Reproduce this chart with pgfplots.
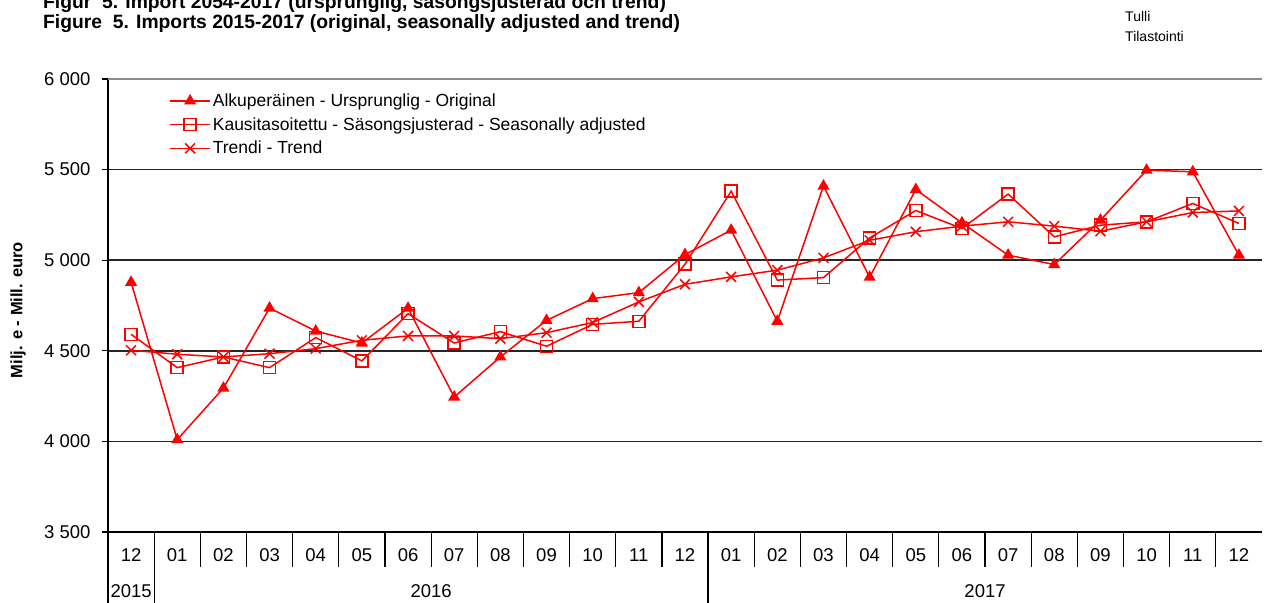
\documentclass[border=0pt]{standalone}
\usepackage{pgfplots}
\pgfplotsset{compat=1.18}
\usepackage{pgfplotstable}
\usepackage{fontspec}
\setmainfont{Liberation Sans}
\definecolor{ser}{RGB}{255,0,0}
\pgfplotstableread{
idx orig sa trend
0 4878 4591 4503
1 4010 4407 4481
2 4294 4466 4466
3 4736 4407 4484
4 4609 4573 4512
5 4543 4444 4558
6 4735 4705 4582
7 4245 4543 4582
8 4466 4606 4567
9 4668 4525 4600
10 4788 4646 4656
11 4821 4663 4770
12 5031 4978 4867
13 5166 5381 4908
14 4663 4890 4945
15 5409 4904 5013
16 4906 5123 5110
17 5390 5274 5157
18 5206 5175 5188
19 5028 5365 5212
20 4976 5129 5188
21 5221 5193 5160
22 5497 5212 5212
23 5488 5313 5263
24 5028 5203 5272
}\data
\begin{document}
\begin{tikzpicture}[x=1pt,y=1pt]
\path[use as bounding box] (0,0) rectangle (1265,602);
\node[anchor=base west, inner sep=0pt, font=\fontsize{19.3}{22}\selectfont\bfseries] at (43,593) {Figur\ \ 5. Import 2054-2017 (ursprunglig, säsongsjusterad och trend)};
\node[anchor=base west, inner sep=0pt, font=\fontsize{19.3}{22}\selectfont\bfseries] at (43,573) {Figure\ \ 5. Imports 2015-2017 (original, seasonally adjusted and trend)};
\node[anchor=base west, inner sep=0pt, font=\fontsize{14}{17}\selectfont] at (1125,580) {Tulli};
\node[anchor=base west, inner sep=0pt, font=\fontsize{14}{17}\selectfont] at (1125,560) {Tilastointi};
\begin{axis}[
  at={(108pt,70pt)}, anchor=south west, scale only axis,
  width=1154pt, height=453pt,
  xmin=-0.5, xmax=24.5, ymin=3500, ymax=6000,
  axis x line*=bottom, axis y line*=left,
  axis line style={black, line width=1.6pt},
  clip=false,
  ytick={3500,4000,...,5500},
  extra y ticks={6000},
  extra y tick style={grid=major, major grid style={black!45, line width=1.6pt}},
  ymajorgrids, grid style={black!85, line width=1.6pt},
  tick align=outside, major tick length=6pt,
  ytick style={black, line width=1.2pt},
  yticklabel style={xshift=-8pt},
  xtick={0,...,24},
  xtick style={draw=none},
  xticklabels={12,01,02,03,04,05,06,07,08,09,10,11,12,01,02,03,04,05,06,07,08,09,10,11,12},
  xticklabel style={anchor=center, yshift=-17pt},
  ticklabel style={font=\fontsize{18.5}{22}\selectfont},
  /pgf/number format/assume math mode=true,
  /pgf/number format/1000 sep={\ },
  ylabel={Milj. e - Mill. euro},
  ylabel style={at={(axis description cs:-0.078,0.49)}, anchor=center, font=\fontsize{16.5}{19}\selectfont\bfseries},
  legend style={draw=none, fill=none, at={(0.053,0.972)}, anchor=north west,
    font=\fontsize{17.5}{21}\selectfont, row sep=5.5pt, inner sep=0pt},
  legend cell align=left,
  legend image code/.code={\draw[mark repeat=2,mark phase=2] plot coordinates {(0pt,0pt) (20pt,0pt) (40pt,0pt)};},
]
\addplot[ser, line width=1.5pt, mark=triangle*, mark size=5.5pt, mark options={solid}] table[x=idx,y=orig] {\data};
\addlegendentry{Alkuperäinen - Ursprunglig - Original}
\addplot[ser, line width=1.5pt, mark=square, mark size=6pt, mark options={solid, fill=white}] table[x=idx,y=sa] {\data};
\addlegendentry{Kausitasoitettu - Säsongsjusterad - Seasonally adjusted}
\addplot[ser, line width=1.5pt, mark=x, mark size=7pt, mark options={solid}] table[x=idx,y=trend] {\data};
\addlegendentry{Trendi - Trend}
\pgfplotsinvokeforeach{1.5,2.5,...,11.5}{\draw[black, line width=1.2pt] (axis cs:#1,3500) -- (axis cs:#1,3307);}
\pgfplotsinvokeforeach{13.5,14.5,...,23.5}{\draw[black, line width=1.2pt] (axis cs:#1,3500) -- (axis cs:#1,3307);}
\draw[black, line width=1.2pt] (axis cs:-0.5,3500) -- (axis cs:-0.5,3110);
\draw[black, line width=1.2pt] (axis cs:0.5,3500) -- (axis cs:0.5,3110);
\draw[black, line width=1.2pt] (axis cs:12.5,3500) -- (axis cs:12.5,3110);
\node[font=\fontsize{18.5}{22}\selectfont] at (axis cs:0,3500) [yshift=-59pt] {2015};
\node[font=\fontsize{18.5}{22}\selectfont] at (axis cs:6.5,3500) [yshift=-59pt] {2016};
\node[font=\fontsize{18.5}{22}\selectfont] at (axis cs:18.5,3500) [yshift=-59pt] {2017};
\end{axis}
\end{tikzpicture}
\end{document}
